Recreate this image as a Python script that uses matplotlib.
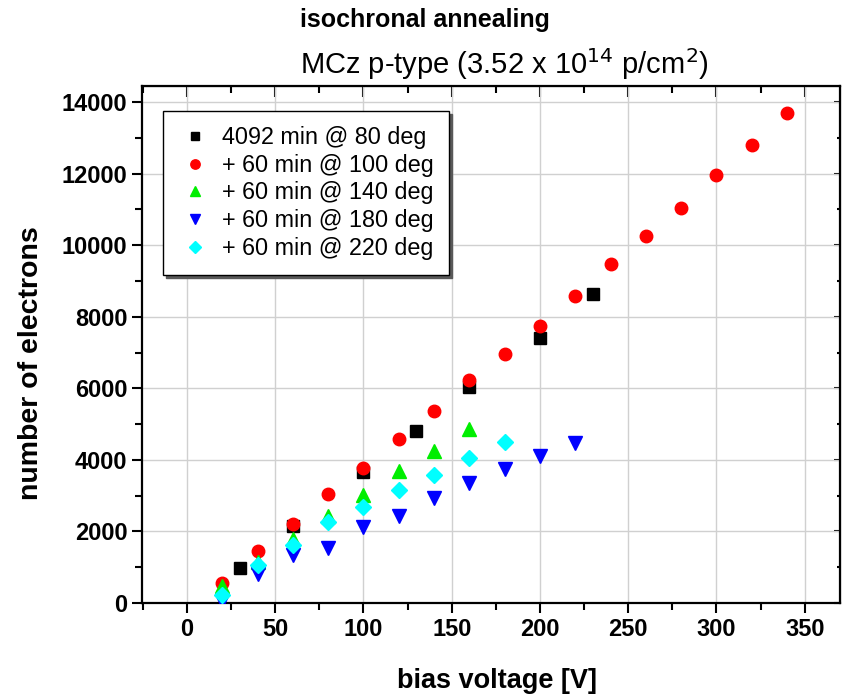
import matplotlib
matplotlib.use("Agg")
import matplotlib.pyplot as plt
from matplotlib.ticker import MultipleLocator

plt.rcParams['font.family'] = ['Liberation Sans', 'DejaVu Sans']

# data
v_80 = [30, 60, 100, 130, 160, 200, 230]
n_80 = [980, 2150, 3650, 4820, 6030, 7420, 8640]

v_100 = [20, 40, 60, 80, 100, 120, 140, 160, 180, 200, 220, 240, 260, 280, 300, 320, 340]
n_100 = [550, 1450, 2200, 3050, 3770, 4580, 5370, 6230, 6950, 7750, 8570, 9470,
         10260, 11030, 11970, 12800, 13700]

v_140 = [20, 40, 60, 80, 100, 120, 140, 160]
n_140 = [470, 1150, 1800, 2420, 3020, 3700, 4260, 4870]

v_180 = [20, 40, 60, 80, 100, 120, 140, 160, 180, 200, 220]
n_180 = [60, 800, 1350, 1550, 2130, 2430, 2930, 3350, 3750, 4120, 4480]

v_220 = [20, 40, 60, 80, 100, 120, 140, 160, 180]
n_220 = [210, 1050, 1610, 2250, 2680, 3150, 3590, 4040, 4510]

fig = plt.figure(figsize=(8.43, 6.95), dpi=100)
ax = fig.add_axes([142/843, 1 - 603/695, (840 - 142)/843, (603 - 86)/695])

ax.plot(v_80, n_80, 's', color='black', ms=8, label='4092 min @ 80 deg', zorder=3)
ax.plot(v_100, n_100, 'o', color='red', ms=9, label='+ 60 min @ 100 deg', zorder=3)
ax.plot(v_140, n_140, '^', color='#00ee00', ms=10, label='+ 60 min @ 140 deg', zorder=3)
ax.plot(v_180, n_180, 'v', color='blue', ms=10, label='+ 60 min @ 180 deg', zorder=3)
ax.plot(v_220, n_220, 'D', color='cyan', ms=8, label='+ 60 min @ 220 deg', zorder=3)

ax.set_xlim(-25.5, 370)
ax.set_ylim(0, 14450)
ax.xaxis.set_major_locator(MultipleLocator(50))
ax.xaxis.set_minor_locator(MultipleLocator(25))
ax.yaxis.set_major_locator(MultipleLocator(2000))
ax.yaxis.set_minor_locator(MultipleLocator(1000))
ax.grid(True, which='major', color='#d0d0d0', lw=1)
ax.set_axisbelow(True)

for s in ax.spines.values():
    s.set_linewidth(1.6)
ax.tick_params(which='both', direction='out', width=1.5, labelsize=17)
ax.tick_params(which='major', length=7)
ax.tick_params(which='minor', length=5)
for lab in ax.get_xticklabels() + ax.get_yticklabels():
    lab.set_fontweight('bold')

# mirrored ticks pointing inward on top and right
axt = ax.secondary_xaxis('top')
axt.xaxis.set_major_locator(MultipleLocator(50))
axt.xaxis.set_minor_locator(MultipleLocator(25))
axt.tick_params(which='both', direction='in', width=1.5, labeltop=False)
axt.tick_params(which='major', length=8)
axt.tick_params(which='minor', length=5)
axr = ax.secondary_yaxis('right')
axr.yaxis.set_major_locator(MultipleLocator(2000))
axr.yaxis.set_minor_locator(MultipleLocator(1000))
axr.tick_params(which='both', direction='in', width=1.5, labelright=False)
axr.tick_params(which='major', length=4)
axr.tick_params(which='minor', length=2)

ax.set_xlabel('bias voltage [V]', fontsize=19.5, fontweight='bold')
ax.set_ylabel('number of electrons', fontsize=20.5, fontweight='bold')
ax.xaxis.set_label_coords(0.5086, -0.125)
ax.yaxis.set_label_coords(-0.141, 0.464)

fig.text(300/843, 1 - 20/695, 'isochronal annealing', fontsize=18, fontweight='bold',
         ha='left', va='center')
fig.text(300/843, 1 - 64/695, r'MCz p-type (3.52 x 10$^{14}$ p/cm$^{2}$)', fontsize=21,
         ha='left', va='center')

leg = ax.legend(loc='upper left', bbox_to_anchor=(163/843, 1 - 111/695),
                bbox_transform=fig.transFigure, fontsize=16.8, frameon=True,
                fancybox=False, edgecolor='black', framealpha=1, markerscale=0.75,
                labelspacing=0.2, handletextpad=0.5, handlelength=1.4,
                borderpad=0.65, borderaxespad=0,
                shadow={'color': '0.35', 'alpha': 1})
leg.get_frame().set_linewidth(1)

fig.savefig('out.png', dpi=100)
